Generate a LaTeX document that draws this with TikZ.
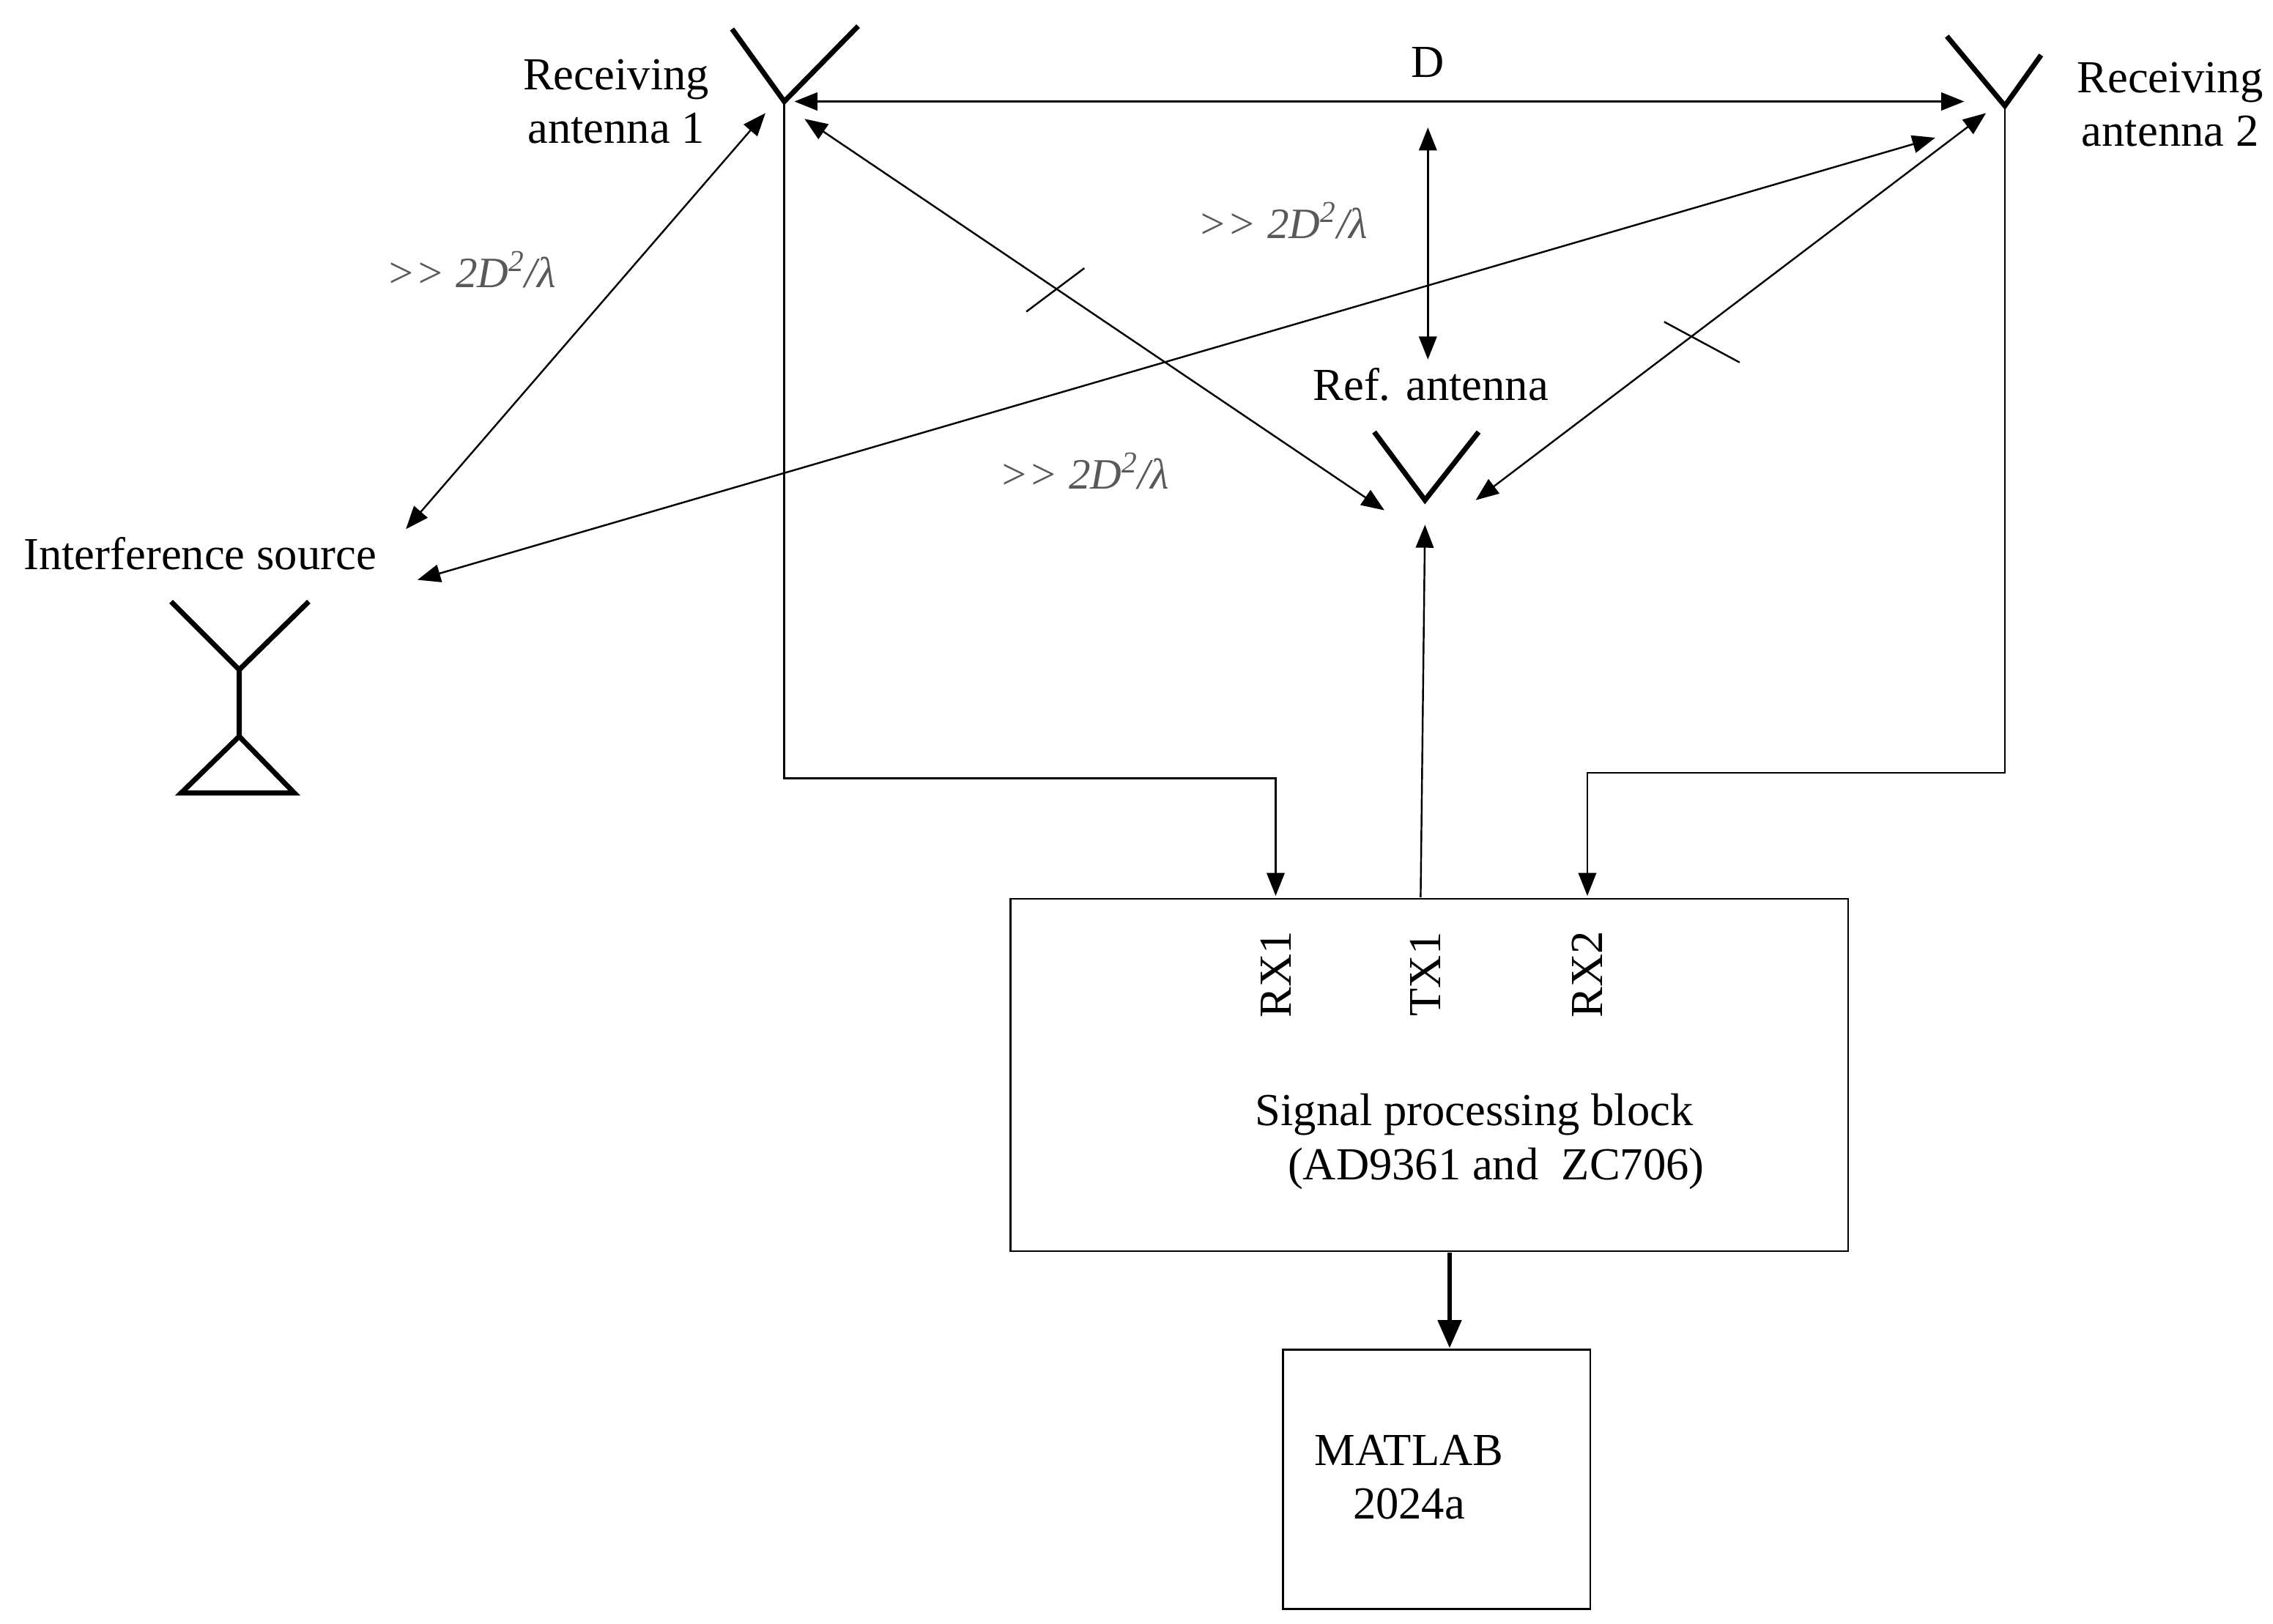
\documentclass[tikz,border=0pt]{standalone}
\usepackage{fontspec}
\setmainfont{Liberation Serif}
\usetikzlibrary{arrows.meta}
\begin{document}
\begin{tikzpicture}[x=0.2mm,y=-0.2mm,
  every node/.style={font=\fontsize{18}{21}\selectfont},
  ln/.style={line width=0.7pt},
  ar/.style={ln,-{Triangle[length=9pt,width=7pt]}},
  dar/.style={ln,{Triangle[length=9pt,width=7pt]}-{Triangle[length=9pt,width=7pt]}},
  ant/.style={line width=2pt},
  far/.style={font=\fontsize{17}{20}\selectfont\itshape,text=black!65}]
\useasboundingbox (0,0) rectangle (1568,1120);
% antennas
\coordinate (a1) at (541,70); \coordinate (a2) at (1383,73); \coordinate (ar) at (983,345);
\draw[ant] (505,20) -- (a1) -- (592,18);
\draw[ant] (1343,25) -- (a2) -- (1408,38);
\draw[ant] (948,298) -- (ar) -- (1020,298);
\draw[ant] (118,415) -- (165,462) -- (213,415) (165,462) -- (165,508);
\draw[ant] (165,508) -- (125,547) -- (203,547) -- cycle;
% labels
\node[align=center] (l1) at (425,70) {Receiving\\antenna 1};
\node[align=center] (l2) at (1497,72) {Receiving\\antenna 2};
\node (lr) at (987,265) {Ref. antenna};
\node (li) at (138,382) {Interference source};
\node (ld) at (985,43) {D};
\newcommand\farlbl{{>}{>} 2D\textsuperscript{2}/λ}
\node[far] (f1) at (885,152) {\farlbl};
\node[far] (f2) at (325,186) {\farlbl};
\node[far] (f3) at (748,325) {\farlbl};
% box
\node[draw,ln,minimum width=578*0.2mm,minimum height=243*0.2mm] (sp) at (986,741.5) {};
\node (sp1) at (1017,769) {Signal processing block};
\node (sp2) at (1032,806) {(AD9361 and\ \ ZC706)};
\node[rotate=90] (rx1) at (880,672) {RX1};
\node[rotate=90] (tx1) at (983,672) {TX1};
\node[rotate=90] (rx2) at (1095,672) {RX2};
\node[draw,ln,minimum width=212*0.2mm,minimum height=179*0.2mm] (ml) at (991,1020.5) {};
\node[align=center] (mlt) at (972,1019) {MATLAB\\2024a};
% connectors
\draw[ar] (a1) -- (541,537) -- (880,537) -- (880,618);
\draw[ar] (a2) -- (1383,533) -- (1095,533) -- (1095,618);
\draw[ar] (980,619) -- (983,362);
\draw[-{Triangle[length=11pt,width=9pt]},line width=2pt] (1000,864) -- (1000,930);
\draw[dar] (548,70) -- (1355,70);
\draw[dar] (985,88) -- (985,248);
\draw[dar] (555,82) -- (955,352);
\draw[dar] (1370,78) -- (1018,345);
\draw[dar] (528,78) -- (280,365);
\draw[dar] (1335,95) -- (288,400);
\draw[ln] (708,215) -- (748,185);
\draw[ln] (1148,222) -- (1200,250);
\end{tikzpicture}
\end{document}
